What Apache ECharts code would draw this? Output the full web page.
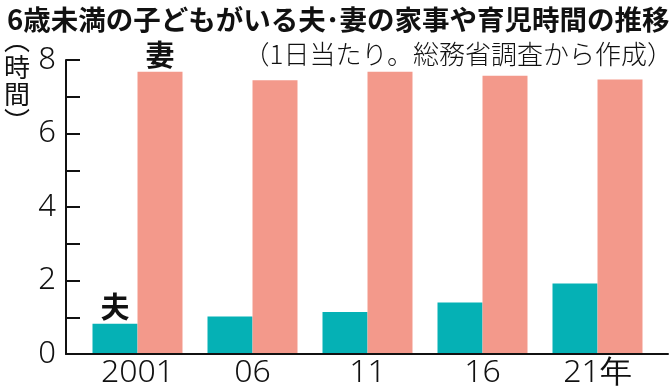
<!DOCTYPE html>
<html><head><meta charset="utf-8">
<script src="https://cdn.jsdelivr.net/npm/echarts@6/dist/echarts.min.js"></script>
<style>html,body{margin:0;padding:0;background:#fff}#c{width:670px;height:389px}</style>
</head><body><div id="c"></div>
<script>
const categories = ['2001', '06', '11', '16', '21年'];
const husband = [0.8, 1.0, 1.12, 1.38, 1.9];
const wife = [7.68, 7.45, 7.68, 7.57, 7.47];
const yTicks = [0, 2, 4, 6, 8];
const titleText = '6歳未満の子どもがいる夫･妻の家事や育児時間の推移';
const subText = '（1日当たり。総務省調査から作成）';
const yName = '︵\n時\n間\n︶';
const husbandName = '夫';
const wifeName = '妻';

const CJK = '"Noto Sans CJK JP", "Noto Sans", sans-serif';
const NUM = '"Noto Sans", sans-serif';
const chart = echarts.init(document.getElementById('c'), null, {renderer: 'canvas'});

function withFirstLabel(arr, name) {
  return arr.map((v, i) => i === 0 ? {
    value: v,
    label: {show: true, position: 'top', formatter: name, distance: 2,
      fontFamily: CJK, fontWeight: 'bold', fontSize: 29, color: '#111'}
  } : v);
}

chart.setOption({
  animation: false,
  backgroundColor: '#fff',
  title: [
    {text: titleText, left: 2, top: 1,
     textStyle: {fontFamily: CJK, fontWeight: 'bold', fontSize: 27.5, color: '#111'}},
    {text: subText, right: -8, top: 36,
     textStyle: {fontFamily: CJK, fontWeight: 300, fontSize: 26, color: '#111'}}
  ],
  graphic: [{
    type: 'text', left: 4, top: 27,
    style: {text: yName, fontFamily: CJK, fontSize: 26, fontWeight: 'normal', lineHeight: 27, fill: '#111'}
  }],
  grid: [
    {left: 80, right: 15, top: 60, bottom: 35},
    {left: 66, right: 2, top: 60, bottom: 35}
  ],
  xAxis: [
    {type: 'category', gridIndex: 0, data: categories,
     axisLine: {show: false}, axisTick: {show: false},
     axisLabel: {margin: 4, fontFamily: NUM, fontWeight: 300, fontSize: 32, color: '#111'}},
    {type: 'value', gridIndex: 1, min: 0, max: 1, show: true,
     axisLine: {show: true, lineStyle: {color: '#111', width: 2}},
     axisTick: {show: false}, axisLabel: {show: false}, splitLine: {show: false}}
  ],
  yAxis: [
    {type: 'value', gridIndex: 0, min: 0, max: 8, show: false},
    {type: 'value', gridIndex: 1, min: 0, max: 8, interval: 1,
     axisLine: {show: true, lineStyle: {color: '#111', width: 2}},
     axisTick: {show: true, inside: true, length: 14, lineStyle: {color: '#111', width: 2}},
     axisLabel: {margin: 10, fontFamily: NUM, fontWeight: 300, fontSize: 31, color: '#111',
       formatter: v => yTicks.includes(v) ? String(v) : ''},
     splitLine: {show: false}}
  ],
  series: [
    {type: 'bar', name: husbandName, xAxisIndex: 0, yAxisIndex: 0, data: withFirstLabel(husband, husbandName),
     barWidth: 45, barGap: '0%', itemStyle: {color: '#05B1B5'}},
    {type: 'bar', name: wifeName, xAxisIndex: 0, yAxisIndex: 0, data: withFirstLabel(wife, wifeName),
     barWidth: 45, barGap: '0%', itemStyle: {color: '#F3998B'}}
  ]
});
</script></body></html>
